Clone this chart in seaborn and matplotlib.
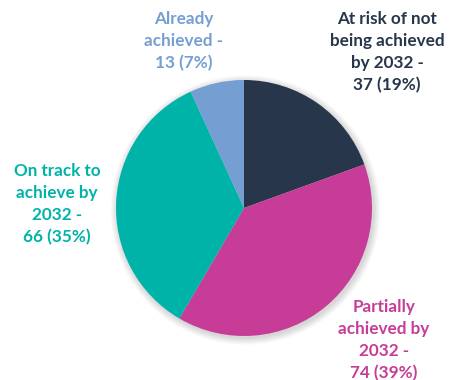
import matplotlib
matplotlib.use("Agg")
import matplotlib.pyplot as plt
import seaborn as sns
from matplotlib.patches import Circle

# Progress status of targets (counts and shares)
statuses = ["At risk of not\nbeing achieved\nby 2032 -", "Partially\nachieved by\n2032 -",
            "On track to\nachieve by\n2032 -", "Already\nachieved -"]
counts = [37, 74, 66, 13]
shares = [19, 39, 35, 7]
colors = ["#27364B", "#C73C97", "#00B3A8", "#759ED3"]

sns.set_theme(style="white")
plt.rcParams["font.family"] = ["Lato", "DejaVu Sans"]

W, H = 452, 380
fig = plt.figure(figsize=(W / 100, H / 100), dpi=100)
ax = fig.add_axes([0, 0, 1, 1])
ax.set_xlim(0, W)
ax.set_ylim(0, H)
ax.set_axis_off()

cx, cy, r = 244, H - 208, 128

# soft drop shadow behind the pie
for i in range(8):
    ax.add_patch(Circle((cx + 1.5, cy - 2), r + 0.5 + i * 0.9, color="black",
                        alpha=0.018, lw=0, zorder=0))

ax.pie(counts, colors=colors, startangle=90, counterclock=False,
       center=(cx, cy), radius=r, frame=True,
       wedgeprops=dict(linewidth=0, zorder=2))
ax.set_xlim(0, W)
ax.set_ylim(0, H)
ax.set_aspect("equal")
ax.set_axis_off()

label_pos = [(387, H - 52), (384, H - 340), (57, H - 204), (184, H - 41)]
for name, n, p, c, (x, y) in zip(statuses, counts, shares, colors, label_pos):
    ax.text(x, y, f"{name}\n{n} ({p}%)", ha="center", va="center",
            fontsize=12.3, fontweight="bold", color=c, linespacing=1.45)

fig.savefig("out.png", dpi=100)
